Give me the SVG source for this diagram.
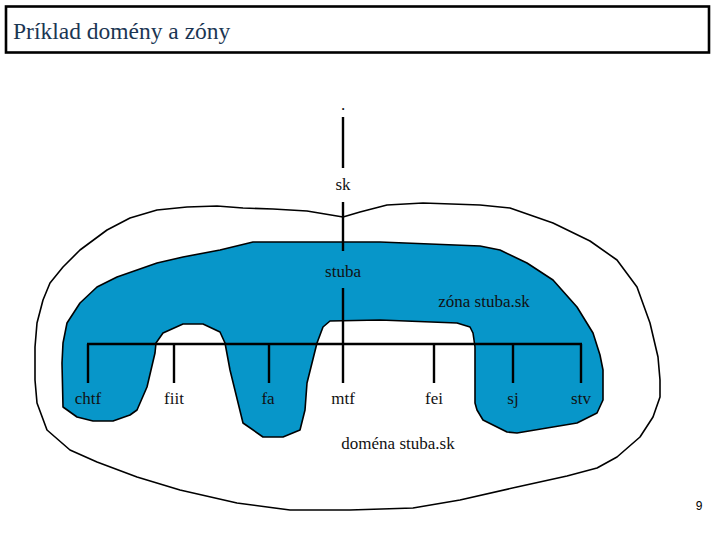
<svg xmlns="http://www.w3.org/2000/svg" width="720" height="540" viewBox="0 0 720 540">
<style>
.lbl{font-family:"Liberation Serif","DejaVu Serif","Noto Serif","Times New Roman",serif;font-size:17px;fill:#111;text-anchor:middle}
.title{font-family:"Liberation Serif","DejaVu Serif","Noto Serif","Times New Roman",serif;font-size:23.5px;fill:#1b3653}
.edge{stroke:#000;stroke-width:2.4;fill:none}
</style>
<rect x="0" y="0" width="720" height="540" fill="#fff"/>
<g id="title">
<rect x="6" y="6.5" width="703" height="46" fill="#fff" stroke="#000" stroke-width="2.6"/>
<text class="title" x="13" y="39">Príklad domény a zóny</text>
</g>
<g id="domain">
<polygon fill="none" stroke="#000" stroke-width="1.6" stroke-linejoin="round" points="343,217 360,212 387,205 423,203 480,205 510,208 553,223 590,241 617,260 637,287 650,323 658,357 660,380 660,397 653,417 640,437 617,457 597,468 567,476 517,487 460,500 413,508 350,510 290,510 237,503 180,490 137,477 97,462 70,450 47,430 37,403 35,380 35,347 37,323 43,300 50,283 63,267 80,250 107,230 130,218 157,210 187,207 217,206 243,208 273,209 307,211"/>
</g>
<g id="zone">
<polygon fill="#0796c9" stroke="#000" stroke-width="1.6" stroke-linejoin="round" points="253,242 340,242 380,242 480,246 500,250 527,263 553,280 577,307 593,333 600,355 603,370 603,400 597,413 577,423 547,428 517,433 507,432 483,420 477,410 475,403 475,347 473,333 470,327 457,323 380,320 330,321 323,327 317,343 307,383 305,410 300,430 283,437 263,437 243,423 230,370 225,343 220,332 203,324 183,324 163,333 156,343 155,353 147,387 137,410 130,415 113,421 93,421 77,417 63,407 62,363 63,343 67,323 80,303 97,287 117,277 157,263 183,257 220,250"/>
</g>
<g id="connectors" class="edge">
<line x1="343" y1="117" x2="343" y2="168"/>
<line x1="343" y1="202" x2="343" y2="251"/>
<line x1="343" y1="288" x2="343" y2="383"/>
<line x1="87" y1="344" x2="582" y2="344"/>
<line x1="88" y1="344" x2="88" y2="383"/>
<line x1="174" y1="344" x2="174" y2="383"/>
<line x1="269" y1="344" x2="269" y2="383"/>
<line x1="434" y1="344" x2="434" y2="383"/>
<line x1="513" y1="344" x2="513" y2="383"/>
<line x1="581" y1="344" x2="581" y2="383"/>
</g>
<g id="root"><text class="lbl" x="343" y="110">.</text></g>
<g id="sk"><text class="lbl" x="343" y="190">sk</text></g>
<g id="stuba"><text class="lbl" x="343" y="277">stuba</text></g>
<g id="chtf"><text class="lbl" x="88" y="404">chtf</text></g>
<g id="fiit"><text class="lbl" x="174" y="404">fiit</text></g>
<g id="fa"><text class="lbl" x="268" y="404">fa</text></g>
<g id="mtf"><text class="lbl" x="343" y="404">mtf</text></g>
<g id="fei"><text class="lbl" x="434" y="404">fei</text></g>
<g id="sj"><text class="lbl" x="513" y="404">sj</text></g>
<g id="stv"><text class="lbl" x="581" y="404">stv</text></g>
<g id="zone-label"><text class="lbl" x="484" y="307">zóna stuba.sk</text></g>
<g id="domain-label"><text class="lbl" x="398" y="449">doména stuba.sk</text></g>
<g id="page"><text x="699" y="510" font-family="Liberation Sans, Arial, sans-serif" font-size="12" fill="#000" text-anchor="middle">9</text></g>
</svg>
